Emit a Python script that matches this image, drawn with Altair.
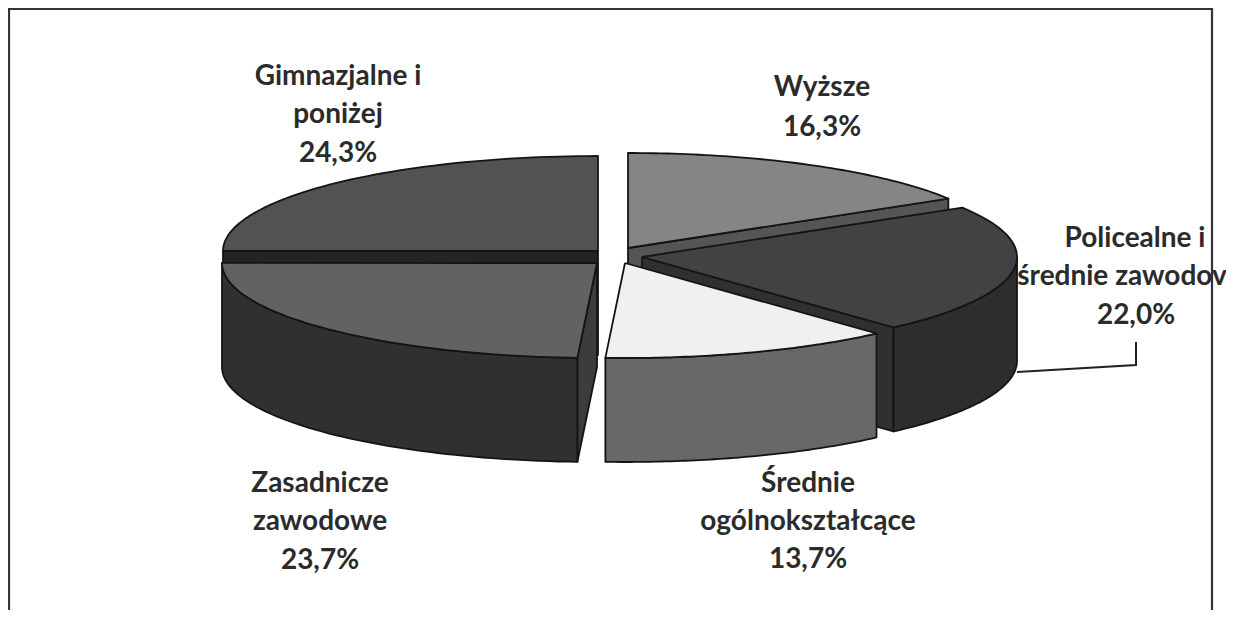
import numpy as np
import pandas as pd
import altair as alt

CATEGORIES = ["Wyższe", "Policealne i średnie zawodowe", "Średnie ogólnokształcące",
              "Zasadnicze zawodowe", "Gimnazjalne i poniżej"]
SHARES = [16.3, 22.0, 13.7, 23.7, 24.3]
TOP_COLORS = ["#858585", "#424242", "#f0f0f0", "#626262", "#525252"]
WALL_COLORS = ["#555555", "#2d2d2d", "#686868", "#303030", "#242424"]
FACE_COLORS = ["#555555", "#303030", "#686868", "#3c3c3c", "#242424"]
# exploded slice apexes in page pixels
APEX_X = [628, 642, 625, 597, 598]
APEX_Y = [248, 257, 263, 263, 251]

LABEL_LINES = ["Wyższe", "16,3%",
               "Policealne i", "średnie zawodov", "22,0%",
               "Średnie", "ogólnokształcące", "13,7%",
               "Zasadnicze", "zawodowe", "23,7%",
               "Gimnazjalne i", "poniżej", "24,3%"]
LABEL_X = [822, 822, 1135, 1122, 1136, 808, 808, 808, 320, 320, 320, 338, 338, 338]
LABEL_Y = [96, 136, 247, 285, 324, 492, 530, 568, 492, 530, 569, 85, 123, 162]

RX, RY, DEPTH = 375, 95, 104
W, H = 1218, 602

# the drawing's perspective slightly compresses the boundaries near the front/left
WARP_FROM = [0, 140, 187.2, 272.5, 360]
WARP_TO = [0, 140, 183, 270, 360]
edges = np.interp(np.cumsum([0] + SHARES) * 3.6, WARP_FROM, WARP_TO)


def arc(i, a, b, dy=0):
    t = np.radians(np.linspace(a, b, 60))
    return list(zip(APEX_X[i] + RX * np.sin(t), APEX_Y[i] - RY * np.cos(t) + dy))


def rim(i, a, dy=0):
    return arc(i, a, a, dy)[:1]


def top(i):
    return [(APEX_X[i], APEX_Y[i])] + arc(i, edges[i], edges[i + 1]) + [(APEX_X[i], APEX_Y[i])]


def wall(i):
    a, b = max(edges[i], 90), min(edges[i + 1], 270)
    front = arc(i, a, b)
    return front + arc(i, b, a, DEPTH) + front[:1]


def face(i, a):
    p = (APEX_X[i], APEX_Y[i])
    r = rim(i, a)[0]
    return [p, r, (r[0], r[1] + DEPTH), (p[0], p[1] + DEPTH), p]


X = alt.Scale(domain=[8, 8 + W], range=[0, W])
Y = alt.Scale(domain=[8, 8 + H], range=[0, H])


def poly(points, fill):
    df = pd.DataFrame(points, columns=["x", "y"])
    df["i"] = range(len(df))
    return alt.Chart(df).mark_line(
        fill=fill, stroke="#141414", strokeWidth=1.8, strokeJoin="round", clip=True
    ).encode(
        x=alt.X("x:Q", scale=X, axis=None),
        y=alt.Y("y:Q", scale=Y, axis=None),
        order="i:Q",
    )


layers = [
    # back slices first, front slices last
    poly(face(0, edges[1]), FACE_COLORS[0]),
    poly(top(0), TOP_COLORS[0]),
    poly(face(4, edges[4]), FACE_COLORS[4]),
    poly(top(4), TOP_COLORS[4]),
    poly(face(1, edges[2]), FACE_COLORS[1]),
    poly(wall(1), WALL_COLORS[1]),
    poly(top(1), TOP_COLORS[1]),
    poly(wall(2), WALL_COLORS[2]),
    poly(top(2), TOP_COLORS[2]),
    poly(face(3, edges[3]), FACE_COLORS[3]),
    poly(wall(3), WALL_COLORS[3]),
    poly(top(3), TOP_COLORS[3]),
]

leader = pd.DataFrame({"x": [1017, 1136, 1136], "y": [372, 365, 342], "i": [0, 1, 2]})
layers.append(
    alt.Chart(leader).mark_line(stroke="#222222", strokeWidth=2).encode(
        x=alt.X("x:Q", scale=X, axis=None), y=alt.Y("y:Q", scale=Y, axis=None), order="i:Q"
    )
)

frame = pd.DataFrame({"x": [9, 9, 1212, 1212], "y": [610, 9, 9, 610], "i": [0, 1, 2, 3]})
layers.append(
    alt.Chart(frame).mark_line(stroke="#333333", strokeWidth=2.2).encode(
        x=alt.X("x:Q", scale=X, axis=None), y=alt.Y("y:Q", scale=Y, axis=None), order="i:Q"
    )
)

labels = pd.DataFrame({"t": LABEL_LINES, "x": LABEL_X, "y": LABEL_Y})
layers.append(
    alt.Chart(labels).mark_text(
        font="Lato", fontWeight="bold", fontSize=28, color="#2b2b2b",
        align="center", baseline="alphabetic",
    ).encode(
        x=alt.X("x:Q", scale=X, axis=None), y=alt.Y("y:Q", scale=Y, axis=None), text="t:N"
    )
)

chart = alt.layer(*layers).properties(
    width=W, height=H, padding=0, autosize=alt.AutoSizeParams(type="none"), background="#ffffff"
).configure_view(stroke=None)

chart.save("out.html", embed_options={"renderer": "svg", "actions": False})
